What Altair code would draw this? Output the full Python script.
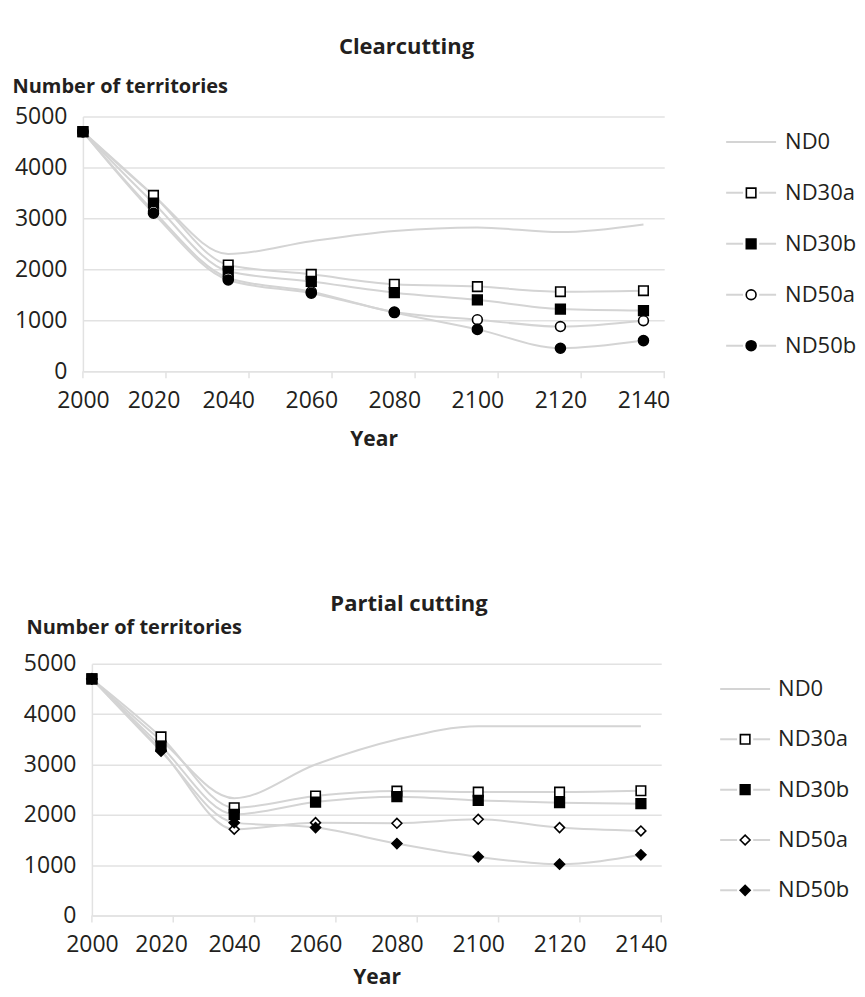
import altair as alt
import pandas as pd

# ---- data ----
years = [2000, 2017, 2035, 2055, 2075, 2095, 2115, 2135]          # positions of the points
tick_years = [2000, 2020, 2040, 2060, 2080, 2100, 2120, 2140]     # axis tick marks
y_ticks = [0, 1000, 2000, 3000, 4000, 5000]
series = ["ND0", "ND30a", "ND30b", "ND50a", "ND50b"]

clear_nd0 = [4700, 3450, 2300, 2550, 2750, 2820, 2730, 2880]
clear_nd30a = [4700, 3450, 2085, 1900, 1705, 1660, 1560, 1580]
clear_nd30b = [4700, 3300, 1960, 1760, 1540, 1400, 1220, 1190]
clear_nd50a = [4700, 3140, 1830, 1560, 1160, 1010, 875, 990]
clear_nd50b = [4700, 3100, 1790, 1530, 1150, 820, 450, 600]

part_nd0 = [4700, 3480, 2330, 3000, 3495, 3760, 3760, 3760]
part_nd30a = [4700, 3548, 2142, 2373, 2472, 2452, 2452, 2478]
part_nd30b = [4700, 3363, 2010, 2254, 2360, 2287, 2241, 2221]
part_nd50a = [4700, 3285, 1713, 1845, 1832, 1911, 1746, 1680]
part_nd50b = [4700, 3264, 1845, 1746, 1429, 1165, 1020, 1205]

FONT = "Open Sans"
TEXT = "#231f20"
GRID = "#e2e2e2"
LINE = "#d4d4d4"
marker_fill = ["white", "black", "white", "black"]


def long_df(columns, key):
    rows = []
    for s, vals in zip(series, columns):
        for yr, v in zip(years, vals):
            rows.append({key: s, "year": yr, "value": v})
    return pd.DataFrame(rows)


def marker_encodings(key, shapes, sizes):
    dom = series[1:]
    return dict(
        shape=alt.Shape(f"{key}:N", scale=alt.Scale(domain=dom, range=shapes), legend=None),
        fill=alt.Fill(f"{key}:N", scale=alt.Scale(domain=dom, range=marker_fill), legend=None),
        size=alt.Size(f"{key}:N", scale=alt.Scale(domain=dom, range=sizes), legend=None),
    )


def panel(df, key, title, shapes, sizes, width, height, inset, ytx, yty,
          title_dx, title_off, label_pad, title_pad):
    xs = alt.Scale(domain=[2000, 2140], nice=False, zero=False, range=[inset, width])
    ys = alt.Scale(domain=[0, 5000], nice=False)
    x_axis = alt.Axis(values=years, labelExpr="'' + round(datum.value / 20) * 20",
                      ticks=False, grid=False, domainColor=GRID, domainWidth=1.5,
                      labelFont=FONT, labelFontSize=23, labelColor=TEXT, labelPadding=label_pad,
                      labelFlush=False, labelOverlap=False,
                      title="Year", titleFont=FONT, titleFontSize=21, titleFontWeight="bold",
                      titleColor=TEXT, titlePadding=title_pad)
    y_axis = alt.Axis(values=y_ticks, format="d", ticks=False, grid=True, gridColor=GRID,
                      gridWidth=1.5, domainColor=GRID, domainWidth=1.5, offset=-inset,
                      labelFont=FONT, labelFontSize=23, labelColor=TEXT, labelPadding=16,
                      title="Number of territories", titleFont=FONT, titleFontSize=20,
                      titleFontWeight="bold", titleColor=TEXT, titleAngle=0,
                      titleAlign="left", titleBaseline="middle", titleX=ytx, titleY=yty)
    base = alt.Chart(df)
    lines = base.mark_line(interpolate="monotone", color=LINE, strokeWidth=2).encode(
        x=alt.X("year:Q", scale=xs, axis=x_axis),
        y=alt.Y("value:Q", scale=ys, axis=y_axis),
        detail=f"{key}:N",
    )
    pts = base.transform_filter(alt.datum[key] != "ND0").mark_point(
        filled=True, stroke="black", strokeWidth=1.6, opacity=1).encode(
        x=alt.X("year:Q", scale=xs, axis=x_axis),
        y=alt.Y("value:Q", scale=ys, axis=y_axis),
        **marker_encodings(key, shapes, sizes),
    )
    ticks = alt.Chart(pd.DataFrame({"year": tick_years})).mark_rule(
        color=GRID, strokeWidth=1.5).encode(
        x=alt.X("year:Q", scale=xs, axis=x_axis),
        y=alt.value(height), y2=alt.value(height + 7),
    )
    return alt.layer(lines, pts, ticks).properties(
        width=width, height=height,
        title=alt.Title(title, font=FONT, fontSize=22, fontWeight="bold", color=TEXT,
                        anchor="middle", dx=title_dx, offset=title_off),
    )


def legend(key, shapes, sizes, height, line_len, text_x):
    ldf = pd.DataFrame({key: series})
    y = alt.Y(f"{key}:N", sort=series, axis=None, scale=alt.Scale(domain=series))
    rule = alt.Chart(ldf).mark_rule(color=LINE, strokeWidth=2).encode(
        y=y, x=alt.value(0), x2=alt.value(line_len))
    marked = alt.Chart(ldf).transform_filter(alt.datum[key] != "ND0")
    halo = marked.mark_point(shape="square", filled=True, color="white", opacity=1,
                             size=260).encode(y=y, x=alt.value(line_len / 2))
    pts = marked.mark_point(
        filled=True, stroke="black", strokeWidth=1.6, opacity=1).encode(
        y=y, x=alt.value(line_len / 2),
        **marker_encodings(key, shapes, [s * 0.7 for s in sizes]),
    )
    txt = alt.Chart(ldf).mark_text(align="left", baseline="middle", font=FONT, fontSize=22,
                                   color=TEXT).encode(y=y, x=alt.value(text_x), text=f"{key}:N")
    return alt.layer(rule, halo, pts, txt).properties(width=60, height=height)


clear_df = long_df([clear_nd0, clear_nd30a, clear_nd30b, clear_nd50a, clear_nd50b], "clear")
part_df = long_df([part_nd0, part_nd30a, part_nd30b, part_nd50a, part_nd50b], "partial")

top_shapes = ["square", "square", "circle", "circle"]
top_sizes = [90, 100, 85, 115]
bot_shapes = ["square", "square", "diamond", "diamond"]
bot_sizes = [90, 100, 150, 170]

top_row = alt.hconcat(
    panel(clear_df, "clear", "Clearcutting", top_shapes, top_sizes, 590, 255, 8,
          -71, -30, 37, 18, 18, 16),
    legend("clear", top_shapes, top_sizes, 255, 50, 59),
    spacing=55,
)

bottom_row = alt.hconcat(
    panel(part_df, "partial", "Partial cutting", bot_shapes, bot_sizes, 587, 252, 17,
          -66, -36, 41, 2, 18, 10),
    legend("partial", bot_shapes, bot_sizes, 252, 50, 58),
    spacing=52,
)

chart = alt.vconcat(top_row, bottom_row, spacing=144).resolve_scale(
    shape="independent", fill="independent", size="independent"
).properties(
    padding={"left": 4, "top": 27, "right": 0, "bottom": 2},
).configure(font=FONT).configure_view(stroke=None)

chart.save("out.html", embed_options={"renderer": "svg", "actions": False})
